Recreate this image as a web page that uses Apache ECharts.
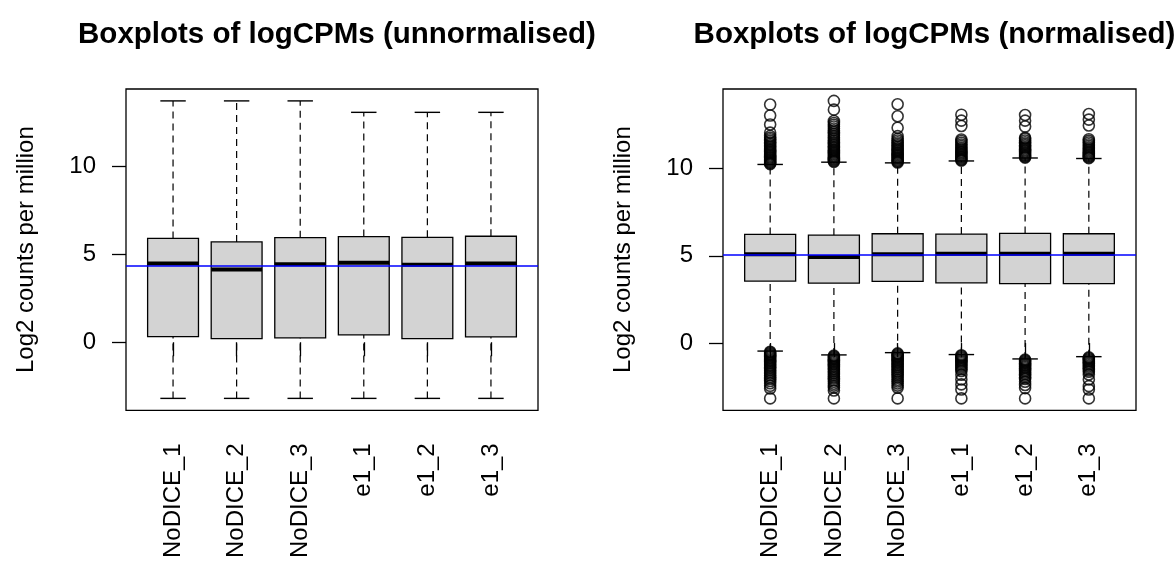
<!DOCTYPE html>
<html>
<head>
<meta charset="utf-8">
<script src="https://cdn.jsdelivr.net/npm/echarts@6/dist/echarts.min.js"></script>
<style>
  html, body { margin: 0; padding: 0; background: #ffffff; }
  #chart { width: 1174px; height: 561px; }
</style>
</head>
<body>
<div id="chart"></div>
<script>
// Sample names shared by both panels
const categories = ['NoDICE_1', 'NoDICE_2', 'NoDICE_3', 'e1_1', 'e1_2', 'e1_3'];
const yTicks = [0, 5, 10];

// Unnormalised logCPM summaries (whisker low, Q1, median, Q3, whisker high)
const rawLow    = [-3.19, -3.19, -3.19, -3.19, -3.19, -3.19];
const rawQ1     = [0.32, 0.21, 0.25, 0.42, 0.21, 0.30];
const rawMedian = [4.47, 4.13, 4.43, 4.51, 4.40, 4.47];
const rawQ3     = [5.90, 5.70, 5.94, 6.00, 5.96, 6.02];
const rawHigh   = [13.71, 13.71, 13.71, 13.06, 13.06, 13.06];
const rawRefLine = 4.34;

// Normalised logCPM summaries
const normLow    = [-0.46, -0.68, -0.55, -0.66, -0.91, -0.78];
const normQ1     = [3.55, 3.43, 3.53, 3.45, 3.40, 3.40];
const normMedian = [5.08, 4.93, 5.08, 5.12, 5.12, 5.12];
const normQ3     = [6.22, 6.18, 6.26, 6.24, 6.28, 6.26];
const normHigh   = [10.23, 10.36, 10.32, 10.43, 10.60, 10.57];
const normRefLine = 5.08;

// Normalised outliers above the upper whisker, one list per sample
const normUpperOutliers = [
  [10.25, 10.3, 10.35, 10.41, 10.47, 10.53, 10.6, 10.66, 10.73, 10.8, 10.87, 10.94, 11.01, 11.08, 11.16, 11.24, 11.32, 11.4, 11.49, 11.58, 11.67, 11.76, 11.86, 12.05, 12.52, 13.03, 13.66],
  [10.38, 10.43, 10.49, 10.55, 10.61, 10.68, 10.74, 10.81, 10.88, 10.95, 11.02, 11.09, 11.17, 11.25, 11.33, 11.41, 11.5, 11.59, 11.68, 11.77, 11.87, 11.97, 12.07, 12.18, 12.29, 12.4, 12.5, 12.6, 12.72, 13.37, 13.87],
  [10.34, 10.39, 10.45, 10.51, 10.58, 10.64, 10.71, 10.78, 10.85, 10.92, 11.0, 11.07, 11.15, 11.23, 11.32, 11.41, 11.5, 11.6, 11.7, 11.85, 12.33, 12.99, 13.68],
  [10.45, 10.5, 10.56, 10.62, 10.68, 10.75, 10.82, 10.89, 10.96, 11.03, 11.11, 11.19, 11.28, 11.37, 11.47, 11.57, 11.66, 12.43, 12.74, 13.08],
  [10.62, 10.67, 10.73, 10.79, 10.86, 10.93, 11.0, 11.07, 11.15, 11.23, 11.32, 11.41, 11.5, 11.6, 11.7, 11.76, 12.4, 12.74, 13.06],
  [10.59, 10.64, 10.7, 10.76, 10.83, 10.9, 10.97, 11.05, 11.13, 11.21, 11.3, 11.39, 11.49, 11.58, 11.67, 12.46, 12.8, 13.12]
];

// Normalised outliers below the lower whisker
const normLowerOutliers = [
  [-0.5, -0.55, -0.61, -0.67, -0.73, -0.8, -0.87, -0.94, -1.01, -1.08, -1.16, -1.24, -1.32, -1.4, -1.49, -1.58, -1.67, -1.76, -1.86, -1.96, -2.06, -2.17, -2.3, -2.45, -2.6, -3.17],
  [-0.72, -0.77, -0.83, -0.89, -0.95, -1.02, -1.09, -1.16, -1.23, -1.31, -1.39, -1.47, -1.55, -1.64, -1.73, -1.82, -1.92, -2.02, -2.12, -2.22, -2.33, -2.44, -2.55, -2.72, -3.17],
  [-0.59, -0.64, -0.7, -0.76, -0.82, -0.89, -0.96, -1.03, -1.1, -1.18, -1.26, -1.34, -1.42, -1.51, -1.6, -1.69, -1.79, -1.89, -1.99, -2.1, -2.2, -2.32, -2.44, -2.56, -3.17],
  [-0.7, -0.75, -0.81, -0.87, -0.94, -1.01, -1.08, -1.16, -1.24, -1.32, -1.41, -1.5, -1.6, -1.82, -2.09, -2.37, -2.66, -3.17],
  [-0.95, -1.0, -1.06, -1.12, -1.18, -1.25, -1.32, -1.39, -1.46, -1.54, -1.62, -1.7, -1.79, -1.88, -1.97, -2.06, -2.22, -2.4, -2.58, -3.17],
  [-0.82, -0.87, -0.93, -0.99, -1.06, -1.13, -1.2, -1.28, -1.36, -1.45, -1.54, -1.64, -1.8, -2.09, -2.47, -2.66, -3.17]
];

const FONT = '"Liberation Sans", Arial, Helvetica, sans-serif';
const AXIS_FONT_SIZE = 24;
const TITLE_FONT_SIZE = 29.5;

// Extend a data range by 4% on each side
function paddedRange(lo, hi) {
  const pad = (hi - lo) * 0.04;
  return [lo - pad, hi + pad];
}

function boxRows(low, q1, med, q3, high) {
  return categories.map((_, i) => [i + 1, low[i], q1[i], med[i], q3[i], high[i]]);
}

function outlierPoints(lists) {
  const pts = [];
  lists.forEach((vals, i) => vals.forEach(v => pts.push([i + 1, v])));
  return pts;
}

// Box, dashed whiskers, staples and thick median drawn through the axes
function renderBox(params, api) {
  const x = api.value(0);
  const halfBox = 0.4, halfStaple = 0.2;
  const pLow = api.coord([x, api.value(1)]);
  const pQ1 = api.coord([x, api.value(2)]);
  const pMed = api.coord([x, api.value(3)]);
  const pQ3 = api.coord([x, api.value(4)]);
  const pHigh = api.coord([x, api.value(5)]);
  const left = api.coord([x - halfBox, 0])[0];
  const right = api.coord([x + halfBox, 0])[0];
  const sLeft = api.coord([x - halfStaple, 0])[0];
  const sRight = api.coord([x + halfStaple, 0])[0];
  const black = '#000000';
  const dashed = { stroke: black, lineWidth: 1.2, lineDash: [7, 5], fill: null };
  const solid = { stroke: black, lineWidth: 1.4, fill: null };
  return {
    type: 'group',
    children: [
      { type: 'line', shape: { x1: pQ3[0], y1: pQ3[1], x2: pHigh[0], y2: pHigh[1] }, style: dashed },
      { type: 'line', shape: { x1: pLow[0], y1: pLow[1], x2: pQ1[0], y2: pQ1[1] }, style: dashed },
      { type: 'line', shape: { x1: sLeft, y1: pHigh[1], x2: sRight, y2: pHigh[1] }, style: solid },
      { type: 'line', shape: { x1: sLeft, y1: pLow[1], x2: sRight, y2: pLow[1] }, style: solid },
      { type: 'rect', shape: { x: left, y: pQ3[1], width: right - left, height: pQ1[1] - pQ3[1] },
        style: { fill: '#d3d3d3', stroke: black, lineWidth: 1.3 } },
      { type: 'line', shape: { x1: left, y1: pMed[1], x2: right, y2: pMed[1] },
        style: { stroke: black, lineWidth: 4 } }
    ]
  };
}

const n = categories.length;
const xRange = paddedRange(0.5, n + 0.5);
const catValues = categories.map((_, i) => i + 1);

const rawRange = paddedRange(Math.min(...rawLow), Math.max(...rawHigh));
const allNorm = normUpperOutliers.flat().concat(normLowerOutliers.flat(), normLow, normHigh);
const normRange = paddedRange(Math.min(...allNorm), Math.max(...allNorm));

function xAxisFor(gridIndex) {
  return {
    type: 'value', gridIndex, min: xRange[0], max: xRange[1],
    axisLine: { show: false },
    splitLine: { show: false },
    axisTick: { show: true, customValues: catValues, length: 14, inside: false,
      lineStyle: { color: '#000', width: 1.3 } },
    axisLabel: { show: true, customValues: catValues, rotate: 90, margin: 33,
      fontFamily: FONT, fontSize: AXIS_FONT_SIZE, color: '#000',
      formatter: v => categories[Math.round(v) - 1] || '' }
  };
}

function yAxisFor(gridIndex, range) {
  return {
    type: 'value', gridIndex, min: range[0], max: range[1],
    name: 'Log2 counts per million', nameLocation: 'middle', nameRotate: 90, nameGap: 88,
    nameTextStyle: { fontFamily: FONT, fontSize: AXIS_FONT_SIZE, color: '#000' },
    axisLine: { show: false },
    splitLine: { show: false },
    axisTick: { show: true, customValues: yTicks, length: 14, inside: false,
      lineStyle: { color: '#000', width: 1.3 } },
    axisLabel: { show: true, customValues: yTicks, margin: 30,
      fontFamily: FONT, fontSize: AXIS_FONT_SIZE, color: '#000' }
  };
}

function refLine(value) {
  return {
    silent: true, symbol: 'none', label: { show: false },
    lineStyle: { color: '#0000ff', width: 1.5, type: 'solid' },
    data: [{ yAxis: value }]
  };
}

const titleStyle = { fontFamily: FONT, fontSize: TITLE_FONT_SIZE, fontWeight: 'bold', color: '#000' };

const option = {
  backgroundColor: '#ffffff',
  animation: false,
  title: [
    { text: 'Boxplots of logCPMs (unnormalised)', left: 332, top: 15, textAlign: 'center', textStyle: titleStyle },
    { text: 'Boxplots of logCPMs (normalised)', left: 929.5, top: 15, textAlign: 'center', textStyle: titleStyle }
  ],
  grid: [
    { left: 126, top: 89, width: 412, height: 323, show: true, borderColor: '#000', borderWidth: 1.3, backgroundColor: 'transparent' },
    { left: 723, top: 89, width: 413, height: 323, show: true, borderColor: '#000', borderWidth: 1.3, backgroundColor: 'transparent' }
  ],
  xAxis: [xAxisFor(0), xAxisFor(1)],
  yAxis: [yAxisFor(0, rawRange), yAxisFor(1, normRange)],
  series: [
    {
      type: 'custom', xAxisIndex: 0, yAxisIndex: 0, renderItem: renderBox,
      data: boxRows(rawLow, rawQ1, rawMedian, rawQ3, rawHigh),
      encode: { x: 0, y: [1, 2, 3, 4, 5] }, z: 2,
      markLine: refLine(rawRefLine)
    },
    {
      type: 'custom', xAxisIndex: 1, yAxisIndex: 1, renderItem: renderBox,
      data: boxRows(normLow, normQ1, normMedian, normQ3, normHigh),
      encode: { x: 0, y: [1, 2, 3, 4, 5] }, z: 2,
      markLine: refLine(normRefLine)
    },
    {
      type: 'scatter', xAxisIndex: 1, yAxisIndex: 1, z: 3,
      symbol: 'circle', symbolSize: 11,
      itemStyle: { color: 'transparent', borderColor: '#000', borderWidth: 1.6 },
      data: outlierPoints(normUpperOutliers).concat(outlierPoints(normLowerOutliers))
    }
  ]
};

const chart = echarts.init(document.getElementById('chart'), null, { renderer: 'canvas' });
chart.setOption(option);
</script>
</body>
</html>
